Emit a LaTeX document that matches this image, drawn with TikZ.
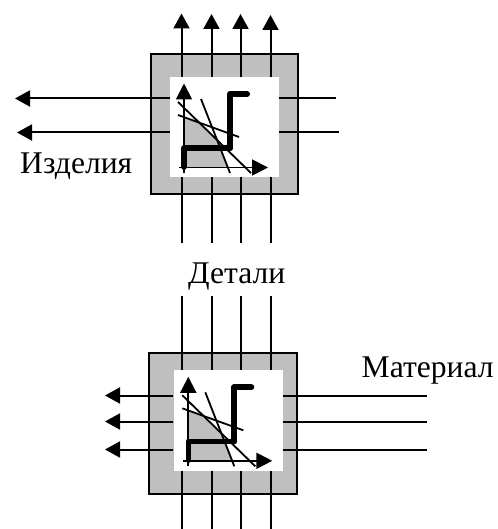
\documentclass[tikz,border=0pt]{standalone}
\usepackage{fontspec}
\setmainfont{Liberation Serif}
\usetikzlibrary{arrows.meta}
\tikzset{
  x=1pt,y=-1pt,
  wire/.style={line width=2pt,black},
  arrowwire/.style={wire,-{Triangle[length=15pt,width=16pt]}},
  frame/.style={draw=black,line width=2pt,fill=black!25,minimum width=#1,inner sep=0pt,anchor=north west},
  hole/.style={fill=white,draw=none,inner sep=0pt,anchor=north west},
  label/.style={font=\fontsize{31.6}{32}\selectfont,inner sep=0pt,anchor=base west},
}
\newcommand{\chart}[2]{%
  \begin{scope}[shift={(#1,#2)}]
    \fill[black!25] (54,77)--(69.2,82.7)--(87,100)--(97.8,127.5)--(54,127.5)--cycle;
    \draw[line width=5.5pt,line cap=round,line join=round] (54,127)--(54,108)--(100,108);
    \draw[line width=6pt,line cap=round,line join=round] (100,108)--(100,54)--(117,54);
    \draw[line width=1.9pt,-{Triangle[length=16pt,width=16pt]}] (54,133)--(54,43.5);
    \draw[line width=1.9pt,-{Triangle[length=16pt,width=16pt]}] (49,127.5)--(138,127.5);
    \draw[line width=1.8pt] (48,62)--(121,133);
    \draw[line width=1.8pt] (48,75)--(109,97);
    \draw[line width=1.8pt] (71,59)--(100,133);
  \end{scope}}
\begin{document}
\begin{tikzpicture}
\useasboundingbox (0,0) rectangle (497,529);
% upper block
\node[frame=147pt,minimum height=140.5pt] (A) at (150,52.7) {};
\node[hole,minimum width=109pt,minimum height=100.5pt] (Ah) at (170,76.7) {};
\chart{130}{40}
\foreach \i/\x/\t in {1/181.5/13.5,2/211.5/14,3/240.5/14,4/270.5/15}{
  \coordinate (At\i) at (\x,\t);
  \coordinate (Atb\i) at (\x,76.7);
  \coordinate (Abt\i) at (\x,177.3);
  \coordinate (Ab\i) at (\x,242.5);
  \draw[arrowwire] (Atb\i)--(At\i);
  \draw[wire] (Abt\i)--(Ab\i);
}
\foreach \i/\y/\e/\l in {1/98.5/336/15,2/132.5/339/17}{
  \coordinate (Al\i) at (\l,\y);
  \coordinate (Ali\i) at (170,\y);
  \coordinate (Ari\i) at (279,\y);
  \coordinate (Ar\i) at (\e,\y);
  \draw[arrowwire] (Ali\i)--(Al\i);
  \draw[wire] (Ari\i)--(Ar\i);
}
% lower block
\node[frame=147.7pt,minimum height=141pt] (B) at (148.3,351.7) {};
\node[hole,minimum width=109.4pt,minimum height=100.7pt] (Bh) at (173.3,370) {};
\chart{134.3}{333.3}
\foreach \i/\x in {1/181.5,2/211.5,3/240.5,4/270.5}{
  \coordinate (Bt\i) at (\x,296);
  \coordinate (Btb\i) at (\x,370);
  \coordinate (Bbt\i) at (\x,470.7);
  \coordinate (Bb\i) at (\x,529);
  \draw[wire] (Btb\i)--(Bt\i);
  \draw[wire] (Bbt\i)--(Bb\i);
}
\foreach \i/\y in {1/395.5,2/421.5,3/449.5}{
  \coordinate (Bl\i) at (105,\y);
  \coordinate (Bli\i) at (173.3,\y);
  \coordinate (Bri\i) at (282.7,\y);
  \coordinate (Br\i) at (426.5,\y);
  \draw[arrowwire] (Bli\i)--(Bl\i);
  \draw[wire] (Bri\i)--(Br\i);
}
\node[label] (t1) at (20,174) {Изделия};
\node[label] (t2) at (188,283) {Детали};
\node[label] (t3) at (361.5,377) {Материал};
\end{tikzpicture}
\end{document}
